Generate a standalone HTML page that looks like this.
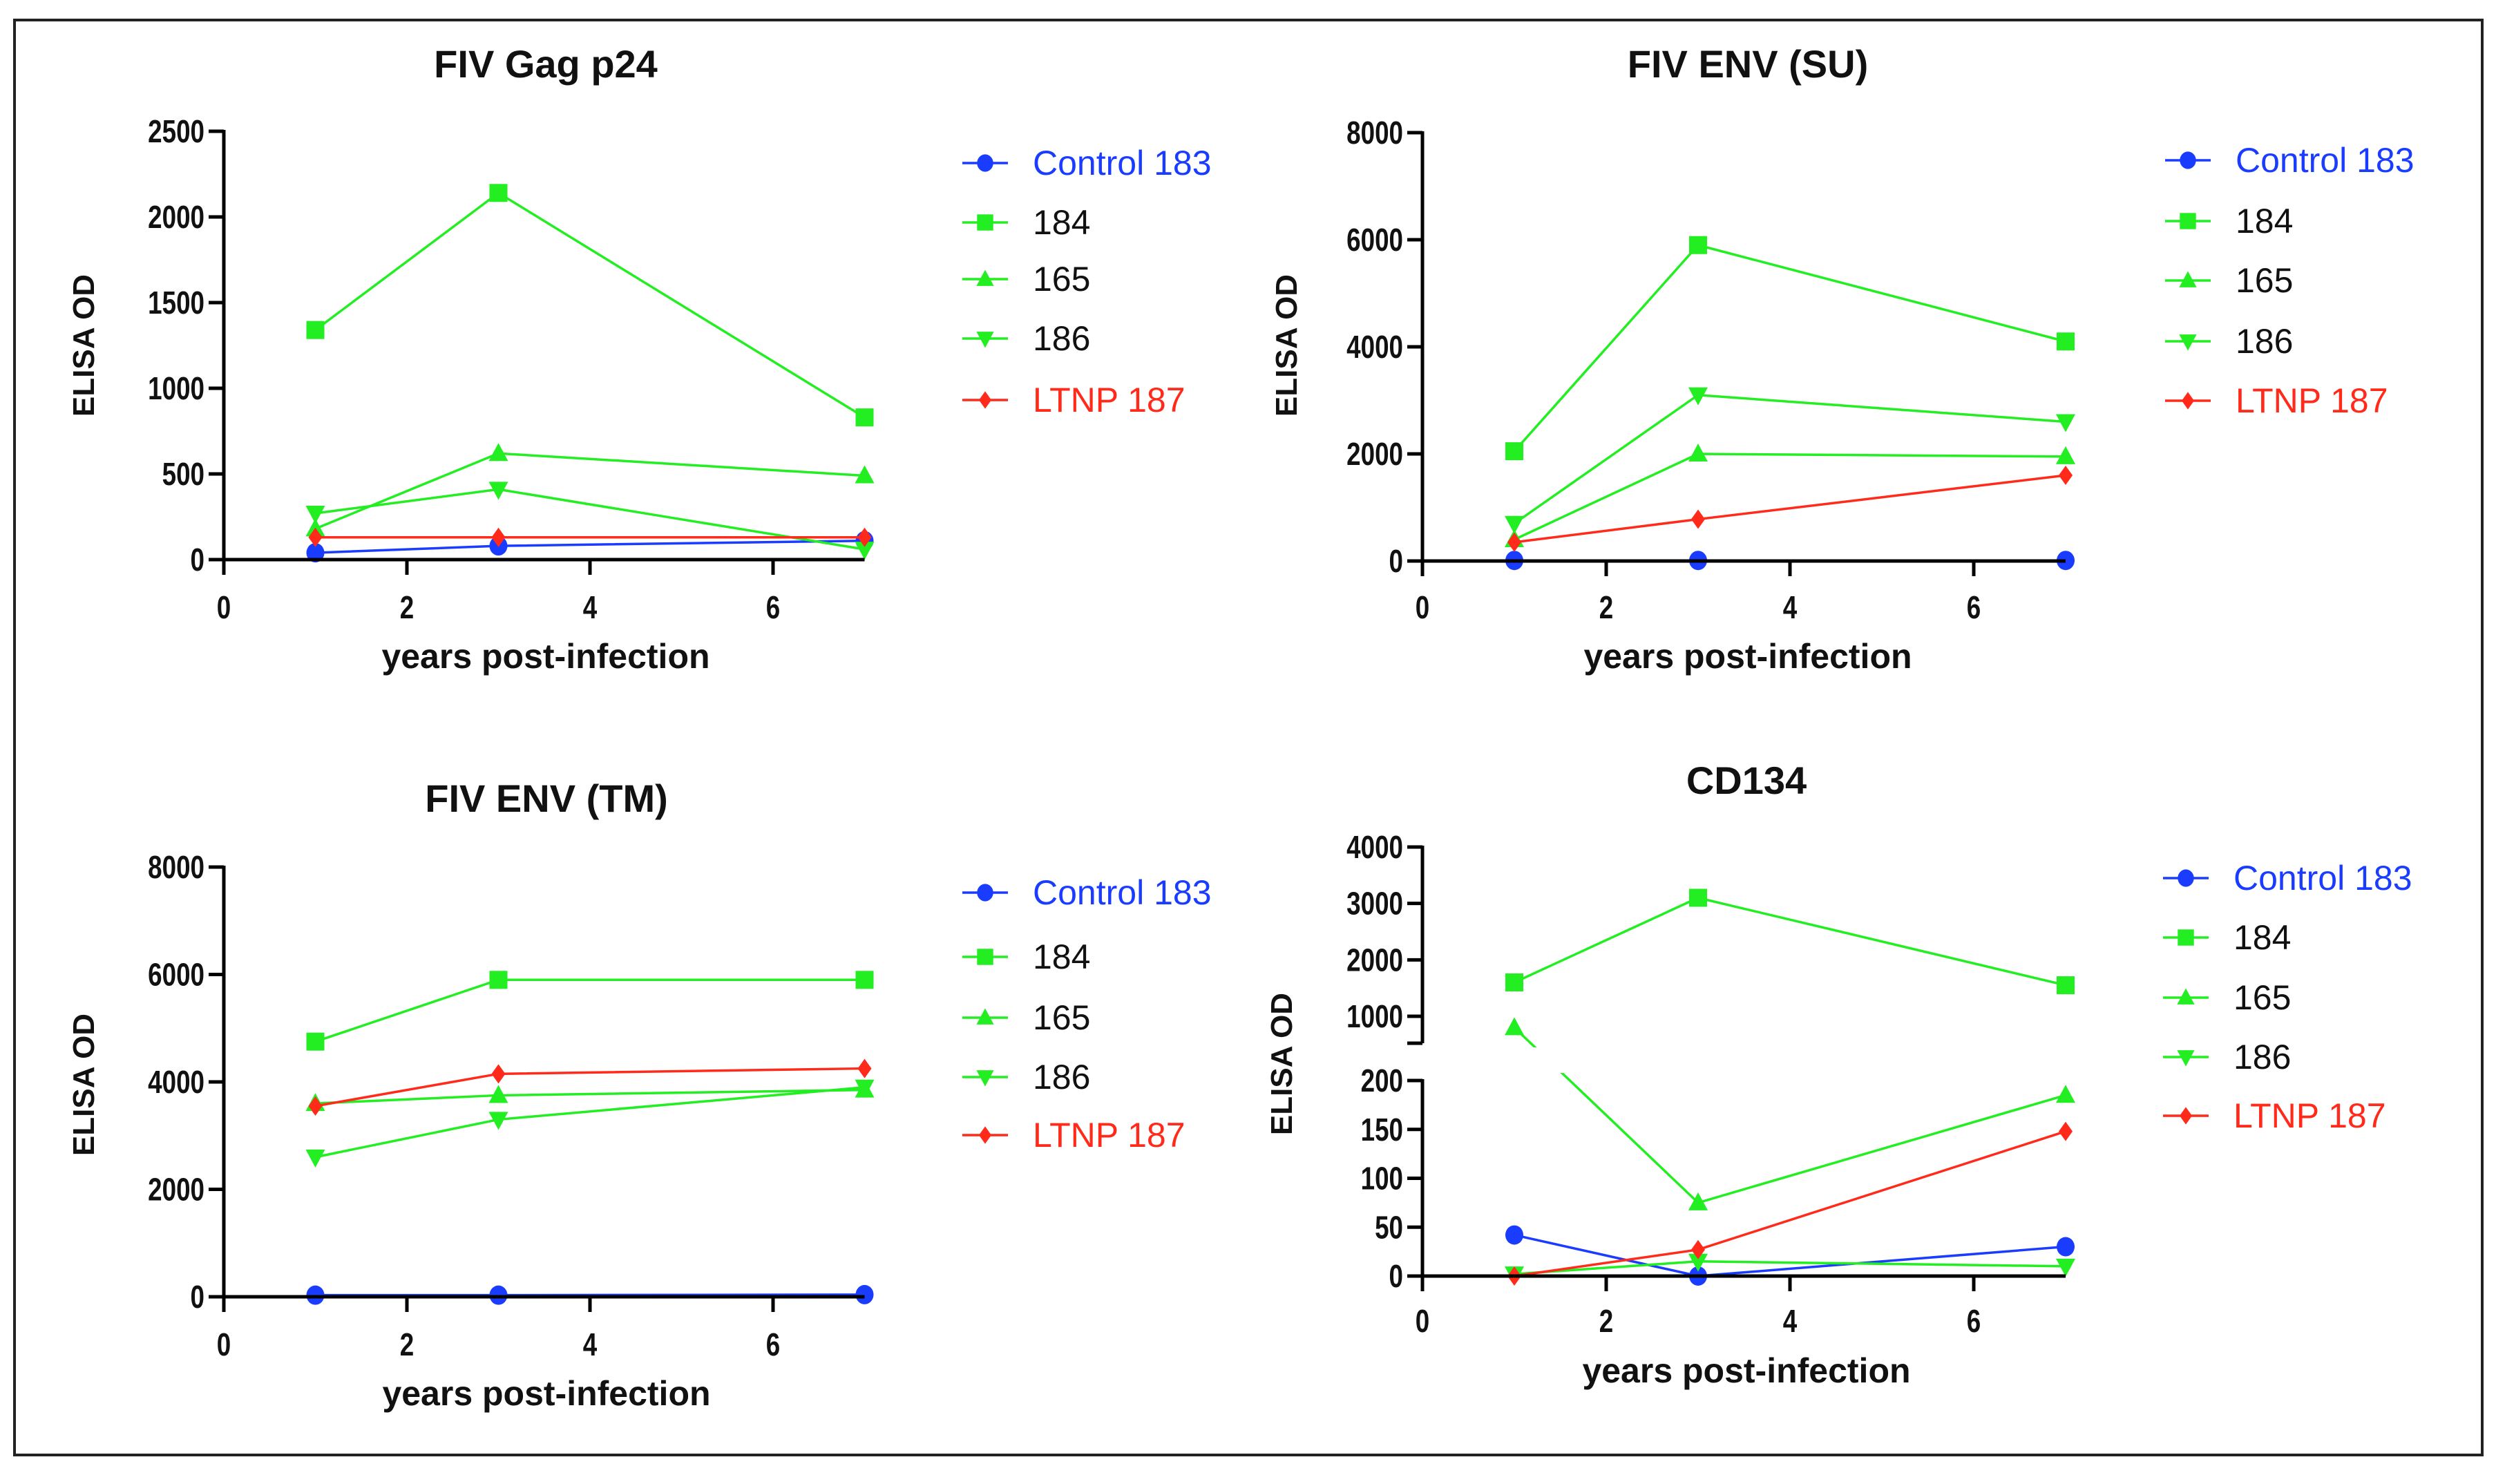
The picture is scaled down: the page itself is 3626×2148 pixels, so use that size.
<!DOCTYPE html>
<html><head><meta charset="utf-8"><style>
html,body{margin:0;padding:0;background:#fff;}
svg{display:block;}
text{font-family:"Liberation Sans Narrow","Liberation Sans",sans-serif;}
</style></head><body>
<svg id="fig" width="3626" height="2148" viewBox="0 0 3626 2148" xmlns="http://www.w3.org/2000/svg">
<rect x="21" y="29" width="3572" height="2077" fill="#fff" stroke="#222" stroke-width="4"/>
</svg>
<script>
const years = [1, 3, 7];
const seriesNames = ["Control 183", "184", "165", "186", "LTNP 187"];
// Gag p24
const gagControl = [40, 80, 110];
const gag184 = [1340, 2140, 830];
const gag165 = [180, 620, 490];
const gag186 = [270, 410, 60];
const gagLTNP = [130, 130, 130];
const gagTicks = [0, 500, 1000, 1500, 2000, 2500];
// ENV SU
const suControl = [10, 10, 10];
const su184 = [2050, 5900, 4100];
const su165 = [400, 2000, 1950];
const su186 = [700, 3100, 2600];
const suLTNP = [350, 780, 1600];
const suTicks = [0, 2000, 4000, 6000, 8000];
// ENV TM
const tmControl = [30, 30, 40];
const tm184 = [4750, 5900, 5900];
const tm165 = [3600, 3750, 3850];
const tm186 = [2600, 3300, 3900];
const tmLTNP = [3550, 4150, 4250];
const tmTicks = [0, 2000, 4000, 6000, 8000];
// CD134
const cdControl = [42, 0, 30];
const cd184 = [1600, 3100, 1550];
const cd165 = [800, 75, 185];
const cd186 = [2, 15, 10];
const cdLTNP = [0, 27, 148];
const cdTicksLow = [0, 50, 100, 150, 200];
const cdTicksHigh = [1000, 2000, 3000, 4000];
const xTicks = [0, 2, 4, 6];

const NS = "http://www.w3.org/2000/svg";
const svg = document.getElementById("fig");
const BLUE = "#1a3cff", GREEN = "#22ee22", RED = "#ff2a1a";
const colors = [BLUE, GREEN, GREEN, GREEN, RED];
const markers = ["circle", "square", "up", "down", "diamond"];

function mk(tag, attrs, parent) {
  const e = document.createElementNS(NS, tag);
  for (const k in attrs) e.setAttribute(k, attrs[k]);
  (parent || svg).appendChild(e);
  return e;
}
function txt(s, x, y, size, attrs, parent) {
  const t = mk("text", Object.assign({x: x, y: y, "font-size": size}, attrs || {}), parent);
  t.textContent = s;
  return t;
}
function narrow(s, x, y, size, anchor, parent) {
  const t = mk("text", {x: 0, y: 0, "font-size": size, "font-weight": "bold", "text-anchor": anchor, fill: "#111", transform: `translate(${x},${y}) scale(0.8,1)`}, parent);
  t.textContent = s;
  return t;
}
function marker(type, x, y, color, g, s) {
  s = s || 1;
  let e;
  if (type === "circle") e = mk("ellipse", {cx: x, cy: y, rx: 13 * s, ry: 14 * s, fill: color}, g);
  else if (type === "square") e = mk("rect", {x: x - 13 * s, y: y - 13 * s, width: 26 * s, height: 26 * s, fill: color}, g);
  else if (type === "up") e = mk("polygon", {points: `${x},${y - 15 * s} ${x + 14 * s},${y + 11 * s} ${x - 14 * s},${y + 11 * s}`, fill: color}, g);
  else if (type === "down") e = mk("polygon", {points: `${x},${y + 15 * s} ${x + 14 * s},${y - 11 * s} ${x - 14 * s},${y - 11 * s}`, fill: color}, g);
  else e = mk("polygon", {points: `${x},${y - 14 * s} ${x + 10 * s},${y} ${x},${y + 14 * s} ${x - 10 * s},${y}`, fill: color}, g);
  return e;
}

function panel(cfg) {
  const g = mk("g", {});
  
  
  const X = v => cfg.x0 + v * cfg.xu;
  const Y = cfg.Y;
  const t = txt(cfg.title, cfg.tx, cfg.ty, 56, {"font-weight": "bold", "text-anchor": "middle", fill: "#111"}, g);
  
  
  const yl = txt("ELISA OD", 0, 0, 44, {"font-weight": "bold", "text-anchor": "middle", fill: "#111", transform: `translate(${cfg.ylx},${cfg.yly}) rotate(-90)`, style: "font-family:'Liberation Sans',sans-serif"}, g);
  
  
  const xl = txt("years post-infection", cfg.tx, cfg.xly, 50, {"font-weight": "bold", "text-anchor": "middle", fill: "#111"}, g);
  
  
  cfg.series.forEach((vals, i) => {
    const sg = mk("g", {}, g);
    
    
    const pts = vals.map((v, j) => X(years[j]) + "," + Y(v)).join(" ");
    const pl = mk("polyline", {points: pts, fill: "none", stroke: colors[i], "stroke-width": 3.5}, sg);
    
    
    vals.forEach((v, j) => {
      const m = marker(markers[i], X(years[j]), Y(v), colors[i], sg);
      
      
    });
  });
  if (cfg.breakGap) {
    const r = mk("rect", {x: cfg.x0 + 4, y: cfg.breakGap[0], width: 7 * cfg.xu, height: cfg.breakGap[1] - cfg.breakGap[0], fill: "#fff"}, g);
    
    
  }
  const ax = mk("g", {}, g);
  
  
  const y0 = Y(0);
  mk("line", {x1: cfg.x0 - 2, y1: y0, x2: X(7), y2: y0, stroke: "#000", "stroke-width": 5}, ax);
  xTicks.forEach(v => {
    mk("line", {x1: X(v), y1: y0, x2: X(v), y2: y0 + 22, stroke: "#000", "stroke-width": 5}, ax);
    const l = narrow(String(v), X(v), cfg.xtl + 2, 46, "middle", ax);
    
    
  });
  cfg.ySegs.forEach(seg => {
    mk("line", {x1: cfg.x0, y1: Y(seg.ticks[seg.ticks.length - 1]) - 2, x2: cfg.x0, y2: seg.bottom, stroke: "#000", "stroke-width": 5}, ax);
    if (seg.endTick) mk("line", {x1: cfg.x0, y1: seg.bottom, x2: cfg.x0 - 22, y2: seg.bottom, stroke: "#000", "stroke-width": 5}, ax);
    seg.ticks.forEach(v => {
      mk("line", {x1: cfg.x0, y1: Y(v), x2: cfg.x0 - 22, y2: Y(v), stroke: "#000", "stroke-width": 5}, ax);
      const l = narrow(String(v), cfg.x0 - 28, Y(v) + 16, 46, "end", ax);
      
      
    });
  });
  const lg = mk("g", {}, g);
  
  
  seriesNames.forEach((n, i) => {
    const eg = mk("g", {}, lg);
    
    
    const yy = cfg.legY[i];
    mk("line", {x1: cfg.legX, y1: yy, x2: cfg.legX + 66, y2: yy, stroke: colors[i], "stroke-width": 3.5}, eg);
    marker(markers[i], cfg.legX + 33, yy, colors[i], eg, 0.9);
    const c = i === 0 ? BLUE : (i === 4 ? RED : "#111");
    txt(n, cfg.legX + 102, yy + 17, 50, {fill: c}, eg);
  });
}

function lin(v0, p0, v1, p1) { return v => p0 + (v - v0) * (p1 - p0) / (v1 - v0); }

const Ygag = lin(0, 810, 2500, 190);
panel({name: "panel-gag-p24", title: "FIV Gag p24", tx: 790, ty: 112, x0: 324, xu: 132.5, Y: Ygag,
  ylx: 136, yly: 500, xly: 967, xtl: 893,
  series: [gagControl, gag184, gag165, gag186, gagLTNP],
  ySegs: [{ticks: gagTicks, bottom: 810}], legX: 1393, legY: [236, 322, 404, 490, 579]});

const Ysu = lin(0, 812, 8000, 192);
panel({name: "panel-env-su", title: "FIV ENV (SU)", tx: 2530, ty: 112, x0: 2059, xu: 133, Y: Ysu,
  ylx: 1877, yly: 500, xly: 967, xtl: 893,
  series: [suControl, su184, su165, su186, suLTNP],
  ySegs: [{ticks: suTicks, bottom: 812}], legX: 3134, legY: [232, 320, 406, 494, 580]});

const Ytm = lin(0, 1877, 8000, 1255);
panel({name: "panel-env-tm", title: "FIV ENV (TM)", tx: 791, ty: 1175, x0: 324, xu: 132.5, Y: Ytm,
  ylx: 136, yly: 1570, xly: 2034, xtl: 1960,
  series: [tmControl, tm184, tm165, tm186, tmLTNP],
  ySegs: [{ticks: tmTicks, bottom: 1877}], legX: 1393, legY: [1292, 1385, 1473, 1559, 1643]});

const YcdLow = lin(0, 1847, 200, 1564);
const YcdHigh = lin(1000, 1471, 4000, 1226);
const Ycd = v => v <= 200 ? YcdLow(v) : (v >= 520 ? YcdHigh(v) : 1510);
panel({name: "panel-cd134", title: "CD134", tx: 2528, ty: 1149, x0: 2059, xu: 133, Y: Ycd,
  ylx: 1870, yly: 1540, xly: 2001, xtl: 1926,
  series: [cdControl, cd184, cd165, cd186, cdLTNP],
  breakGap: [1516, 1553],
  ySegs: [{ticks: cdTicksLow, bottom: 1847}, {ticks: cdTicksHigh, bottom: 1510, endTick: true}],
  legX: 3131, legY: [1271, 1357, 1444, 1530, 1615]});
</script>
</body></html>
